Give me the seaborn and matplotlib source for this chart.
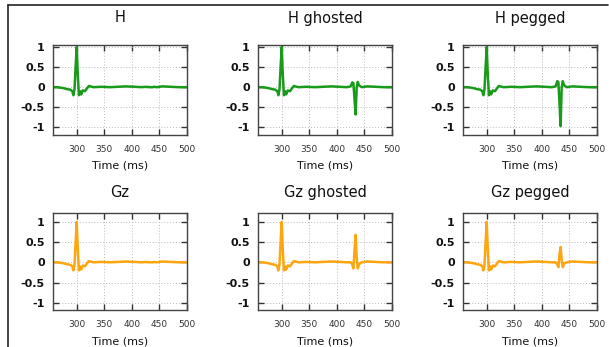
"""
plot.py — six panel grid of H / Gz traces (plain, ghosted, pegged).
"""

import matplotlib
matplotlib.use("Agg")
import matplotlib.pyplot as plt
from matplotlib.lines import Line2D
import pandas as pd
import seaborn as sns

# --- data ------------------------------------------------------------------
time_ms = [257, 265, 275, 283, 288, 292, 294, 296, 298, 300, 302, 304, 306,
           308, 311, 315, 318, 322, 330, 345, 360, 375, 390, 405, 418, 425,
           428, 430, 432, 434, 436, 438, 440, 445, 455, 470, 485, 500]

h_plain = [0.0, 0.0, -0.02, -0.05, -0.06, -0.1, -0.2, -0.05, 0.5, 1.0, 0.3,
           -0.2, -0.1, -0.18, -0.08, -0.1, -0.04, 0.03, 0.0, 0.01, 0.0, 0.01,
           0.02, 0.01, 0.0, 0.01, 0.0, 0.01, 0.0, 0.0, 0.0, 0.0, 0.01, 0.0,
           0.02, 0.01, 0.0, 0.0]
h_ghosted = [0.0, 0.0, -0.02, -0.05, -0.06, -0.1, -0.2, -0.05, 0.5, 1.0, 0.3,
             -0.2, -0.1, -0.18, -0.08, -0.1, -0.04, 0.03, 0.0, 0.01, 0.0, 0.01,
             0.02, 0.01, 0.0, 0.02, 0.12, 0.1, -0.3, -0.68, 0.0, 0.13, 0.05,
             0.0, 0.02, 0.01, 0.0, 0.0]
h_pegged = [0.0, 0.0, -0.02, -0.05, -0.06, -0.1, -0.2, -0.05, 0.5, 1.0, 0.3,
            -0.2, -0.1, -0.18, -0.08, -0.1, -0.04, 0.03, 0.0, 0.01, 0.0, 0.01,
            0.02, 0.01, 0.0, 0.02, 0.15, 0.12, -0.4, -0.97, 0.0, 0.15, 0.05,
            0.0, 0.02, 0.01, 0.0, 0.0]
gz_plain = [0.0, 0.0, -0.02, -0.05, -0.06, -0.1, -0.2, -0.05, 0.5, 1.0, 0.3,
            -0.2, -0.1, -0.18, -0.08, -0.1, -0.04, 0.03, 0.0, 0.01, 0.0, 0.01,
            0.02, 0.01, 0.0, 0.01, 0.0, 0.01, 0.0, 0.0, 0.0, 0.0, 0.01, 0.0,
            0.02, 0.01, 0.0, 0.0]
gz_ghosted = [0.0, 0.0, -0.02, -0.05, -0.06, -0.1, -0.2, -0.05, 0.5, 1.0, 0.3,
              -0.2, -0.1, -0.18, -0.08, -0.1, -0.04, 0.03, 0.0, 0.01, 0.0, 0.01,
              0.02, 0.01, 0.0, 0.0, -0.05, -0.15, 0.3, 0.68, 0.1, -0.15, -0.05,
              0.0, 0.02, 0.01, 0.0, 0.0]
gz_pegged = [0.0, 0.0, -0.02, -0.05, -0.06, -0.1, -0.2, -0.05, 0.5, 1.0, 0.3,
             -0.2, -0.1, -0.18, -0.08, -0.1, -0.04, 0.03, 0.0, 0.01, 0.0, 0.01,
             0.02, 0.01, 0.0, 0.0, -0.05, -0.12, 0.2, 0.38, 0.05, -0.12, -0.03,
             0.0, 0.02, 0.01, 0.0, 0.0]

titles = ["H", "H ghosted", "H pegged", "Gz", "Gz ghosted", "Gz pegged"]
series = [h_plain, h_ghosted, h_pegged, gz_plain, gz_ghosted, gz_pegged]
x_ticks = [300, 350, 400, 450, 500]
y_ticks = [-1, -0.5, 0, 0.5, 1]
y_tick_labels = ["-1", "-0.5", "0", "0.5", "1"]

GREEN = "#1a9a1a"
ORANGE = "#ffa510"

# --- layout (pixels of the 609x347 figure) ----------------------------------
W, H = 609, 347
col_left = [53, 258, 463]
ax_w = 134
row_top = [45, 213]
row_bottom = [135, 310]
row_ylim = [(-1.19, 1.05), (-1.18, 1.22)]

sns.set_style("white")
plt.rcParams["font.family"] = ["DejaVu Sans"]

fig = plt.figure(figsize=(W / 100, H / 100), dpi=100)

for i, (title, vals) in enumerate(zip(titles, series)):
    r, c = divmod(i, 3)
    left = col_left[c]
    top, bottom = row_top[r], row_bottom[r]
    ax = fig.add_axes([left / W, 1 - bottom / H, ax_w / W, (bottom - top) / H])

    df = pd.DataFrame({"t": time_ms, "v": vals})
    sns.lineplot(data=df, x="t", y="v", ax=ax, color=GREEN if r == 0 else ORANGE,
                 linewidth=1.8)

    ax.set_xlim(257, 500)
    ax.set_ylim(*row_ylim[r])
    ax.set_xticks(x_ticks)
    ax.set_yticks(y_ticks)
    ax.set_yticklabels(y_tick_labels)
    ax.tick_params(direction="in", length=4, width=1, color="#333333",
                   top=True, right=True, bottom=True, left=True)
    ax.tick_params(axis="x", labelsize=6.5, pad=7, labelcolor="#333333")
    ax.tick_params(axis="y", labelsize=8, pad=6, labelcolor="#111111")
    for lab in ax.get_yticklabels():
        lab.set_fontweight("bold")
    ax.grid(True, linestyle=(0, (1, 2)), color="#bbbbbb", linewidth=0.7)
    for sp in ax.spines.values():
        sp.set_visible(True)
        sp.set_color("#444444")
        sp.set_linewidth(1.0)

    ax.set_xlabel("")
    ax.set_ylabel("")
    cx = (left + ax_w / 2) / W
    fig.text(cx, 1 - (18 if r == 0 else 192) / H, title, ha="center",
             va="center", fontsize=10.5, color="#111111")
    fig.text(cx, 1 - (bottom + 31) / H, "Time (ms)", ha="center",
             va="center", fontsize=8, color="#111111")

# screenshot frame: top and left edges
fig.add_artist(Line2D([8 / W, 608 / W], [1 - 5 / H, 1 - 5 / H],
                      color="#222222", linewidth=1.2))
fig.add_artist(Line2D([8 / W, 8 / W], [0, 1 - 5 / H],
                      color="#222222", linewidth=1.2))

fig.savefig("out.png", dpi=100)
